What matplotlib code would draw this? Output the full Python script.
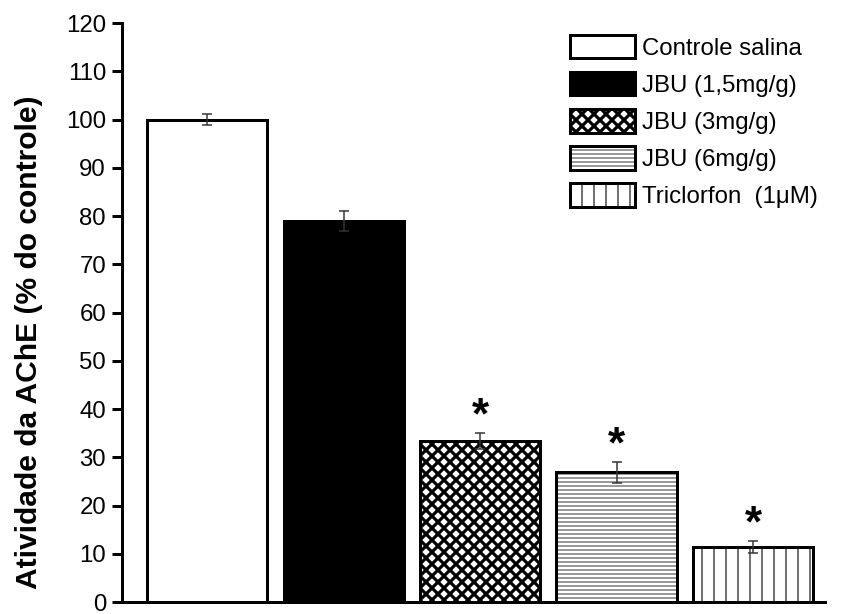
import matplotlib
matplotlib.use("Agg")
import matplotlib.pyplot as plt
from matplotlib.patches import Patch

plt.rcParams['font.family'] = ['Liberation Sans', 'DejaVu Sans']

# Atividade da AChE por grupo
grupos = ['Controle salina', 'JBU (1,5mg/g)', 'JBU (3mg/g)', 'JBU (6mg/g)', 'Triclorfon  (1\u03bcM)']
atividade = [100.0, 79.0, 33.4, 26.9, 11.4]
erro = [1.2, 2.0, 1.6, 2.2, 1.3]
significativo = [False, False, True, True, True]

# estilo de cada barra: (cor de fundo, hachura, cor da hachura, espessura da hachura)
estilos = [
    ('white', None, 'black', 1.0),
    ('black', None, 'black', 1.0),
    ('white', 'xx', 'black', 3.2),
    ('white', '---', '#6e6e6e', 1.4),
    ('white', '|', '#444444', 1.5),
]


def com_hatch_lw(patch, lw):
    # espessura da hachura fixada no proprio patch e tambem na hora do desenho
    if hasattr(patch, '_hatch_linewidth'):
        patch._hatch_linewidth = lw
    desenho_orig = patch.draw

    def draw(renderer):
        with plt.rc_context({'hatch.linewidth': lw}):
            desenho_orig(renderer)
    patch.draw = draw


fig = plt.figure(figsize=(851 / 72, 614 / 72), dpi=72)
ax = fig.add_axes([0.1434, 0.0195, 0.8260, 0.9430])

x = list(range(len(grupos)))
largura = 0.88
handles = []
for i, (fc, hatch, hc, hlw) in enumerate(estilos):
    with plt.rc_context({'hatch.linewidth': hlw}):
        # preenchimento com hachura (cor da hachura vem da edgecolor)
        fundo = ax.bar(x[i], atividade[i], largura, color=fc, edgecolor=hc,
                       hatch=hatch, linewidth=0, zorder=2)
        h_fundo = Patch(facecolor=fc, edgecolor=hc, hatch=hatch, linewidth=0)
    for p in fundo:
        com_hatch_lw(p, hlw)
    # contorno preto por cima
    ax.bar(x[i], atividade[i], largura, facecolor='none', edgecolor='black',
           linewidth=3, zorder=3)

    h_borda = Patch(facecolor='none', edgecolor='black', linewidth=3)
    handles.append((h_fundo, h_borda))

ax.errorbar(x, atividade, yerr=erro, fmt='none', ecolor='#333333',
            elinewidth=1.5, capsize=5, capthick=1.5, zorder=4)

for i in x:
    if significativo[i]:
        ax.text(x[i], atividade[i] + erro[i] - 0.9, '*', ha='center', va='bottom',
                fontsize=44, fontweight='bold', color='black', zorder=5)

ax.set_xlim(-0.623, 4.527)
ax.set_ylim(0, 120)
ax.set_yticks(range(0, 121, 10))
ax.set_xticks([])
ax.tick_params(axis='y', labelsize=24, length=10, width=3, pad=6)

for s in ['top', 'right']:
    ax.spines[s].set_visible(False)
for s in ['left', 'bottom']:
    ax.spines[s].set_linewidth(3)

ax.set_ylabel('Atividade da AChE (% do controle)', fontsize=30, fontweight='bold')
ax.yaxis.set_label_coords(-0.113, 0.449)

leg = ax.legend(handles, grupos, loc='upper left', bbox_to_anchor=(0.637, 0.98),
                frameon=False, fontsize=24, handlelength=2.7, handleheight=1.15,
                handletextpad=0.3, labelspacing=0.5, borderpad=0, borderaxespad=0)

# mesma espessura de hachura nas amostras da legenda
for p in leg.findobj(Patch):
    for fc, hatch, hc, hlw in estilos:
        if hatch and p.get_hatch() == hatch:
            com_hatch_lw(p, hlw)

fig.savefig('out.png', dpi=72)
